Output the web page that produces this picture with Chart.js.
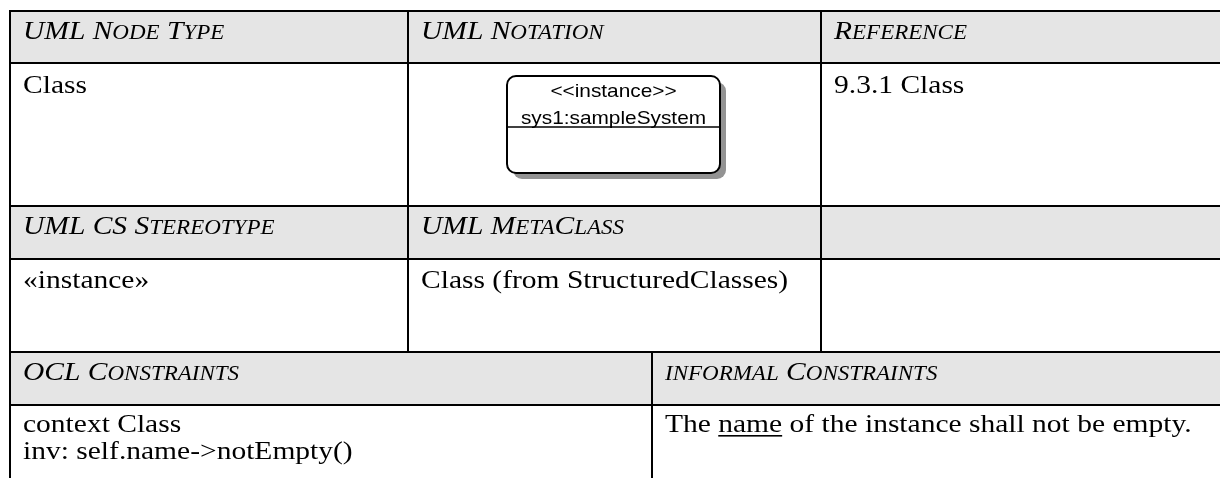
<!DOCTYPE html>
<html><head><meta charset="utf-8">
<script src="https://cdn.jsdelivr.net/npm/chart.js@4.4.0/dist/chart.umd.min.js"></script>
<style>html,body{margin:0;padding:0;background:#fff;overflow:hidden}#wrap{width:1220px;height:478px}</style>
</head><body><div id="wrap"><canvas id="c" width="1220" height="478"></canvas></div>
<script>
// ---- table content (data) ----
const columnEdgesUpper = [10, 408, 821, 1228];
const columnEdgesLower = [10, 652, 1228];
const rowEdges = [11, 63, 206, 259, 352, 405, 490];
const headerRows = [0, 2, 4];
const row1Headers = ['UML Node Type', 'UML Notation', 'Reference'];
const row2Values = ['Class', '', '9.3.1 Class'];
const row3Headers = ['UML CS Stereotype', 'UML MetaClass', ''];
const row4Values = ['\u00ABinstance\u00BB', 'Class (from StructuredClasses)', ''];
const row5Headers = ['OCL Constraints', 'informal Constraints'];
const row6OclLines = ['context Class', 'inv: self.name->notEmpty()'];
const row6Informal = [['The ', false], ['name', true], [' of the instance shall not be empty.', false]];
const notationLines = ['<<instance>>', 'sys1:sampleSystem'];
const notationBox = { x0: 507, x1: 720, y0: 76, y1: 173, divider: 127 };

// ---- styles ----
const SX = 1.135;          // horizontal stretch of the source rendering
const SX_BOX = 1.12;
const SERIF = '"Liberation Serif", "Times New Roman", serif';
const SANS = '"Liberation Sans", Arial, sans-serif';
const FS = 26, SC = 0.78, FS_BOX = 18.6;
const PAD_X = 13, BASE_OFF = 28, LINE_H = 27;
const GREY = '#e5e5e5';

function drawRuns(ctx, x, y, runs, sx) {
  sx = sx || SX;
  let cx = x;
  for (const r of runs) {
    ctx.font = (r.italic ? 'italic ' : '') + r.size + 'px ' + (r.family || SERIF);
    const w = ctx.measureText(r.t).width * sx;
    ctx.save(); ctx.translate(cx, y); ctx.scale(sx, 1); ctx.fillText(r.t, 0, 0); ctx.restore();
    if (r.underline) ctx.fillRect(cx, y + 3, w, 1.6);
    cx += w;
  }
  return cx - x;
}
function smallCaps(str) {
  const runs = [];
  for (const ch of str) {
    const small = /[a-z]/.test(ch);
    const t = small ? ch.toUpperCase() : ch;
    const size = small ? FS * SC : FS;
    const last = runs[runs.length - 1];
    if (last && last.size === size) last.t += t; else runs.push({ t, size, italic: true });
  }
  return runs;
}
function plain(str) { return [{ t: str, size: FS, italic: false }]; }

const tablePlugin = {
  id: 'tablePlugin',
  afterDraw(chart) {
    const ctx = chart.ctx;
    const X = v => chart.scales.x.getPixelForValue(v);
    const Y = v => chart.scales.y.getPixelForValue(v);
    ctx.save();
    for (const r of headerRows) {
      ctx.fillStyle = GREY;
      ctx.fillRect(X(columnEdgesUpper[0]), Y(rowEdges[r]), X(1228) - X(columnEdgesUpper[0]), Y(rowEdges[r + 1]) - Y(rowEdges[r]));
    }
    ctx.strokeStyle = '#000'; ctx.lineWidth = 2;
    ctx.beginPath();
    for (let i = 0; i < rowEdges.length - 1; i++) {
      ctx.moveTo(X(columnEdgesUpper[0]) - 1, Y(rowEdges[i])); ctx.lineTo(X(1228), Y(rowEdges[i]));
    }
    ctx.moveTo(X(columnEdgesUpper[0]), Y(rowEdges[0])); ctx.lineTo(X(columnEdgesUpper[0]), Y(rowEdges[6]));
    for (let c = 1; c < columnEdgesUpper.length - 1; c++) {
      ctx.moveTo(X(columnEdgesUpper[c]), Y(rowEdges[0])); ctx.lineTo(X(columnEdgesUpper[c]), Y(rowEdges[4]));
    }
    for (let c = 1; c < columnEdgesLower.length - 1; c++) {
      ctx.moveTo(X(columnEdgesLower[c]), Y(rowEdges[4])); ctx.lineTo(X(columnEdgesLower[c]), Y(rowEdges[6]));
    }
    ctx.stroke();

    ctx.fillStyle = '#000'; ctx.textBaseline = 'alphabetic'; ctx.textAlign = 'left';
    const cx = c => X(columnEdgesUpper[c]) + PAD_X;
    const cxl = c => X(columnEdgesLower[c]) + PAD_X;
    const by = r => Y(rowEdges[r]) + BASE_OFF;
    row1Headers.forEach((t, c) => t && drawRuns(ctx, cx(c), by(0), smallCaps(t)));
    row2Values.forEach((t, c) => t && drawRuns(ctx, cx(c), by(1) + 2, plain(t)));
    row3Headers.forEach((t, c) => t && drawRuns(ctx, cx(c), by(2), smallCaps(t)));
    row4Values.forEach((t, c) => t && drawRuns(ctx, cx(c), by(3) + 1, plain(t)));
    row5Headers.forEach((t, c) => t && drawRuns(ctx, cxl(c), by(4), smallCaps(t)));
    row6OclLines.forEach((t, i) => drawRuns(ctx, cxl(0), by(5) - 1 + i * LINE_H, plain(t)));
    drawRuns(ctx, cxl(1), by(5) - 1, row6Informal.map(([t, u]) => ({ t, size: FS, italic: false, underline: u })));

    const b = notationBox;
    const bx0 = X(b.x0), bx1 = X(b.x1), by0 = Y(b.y0), by1 = Y(b.y1);
    ctx.fillStyle = '#939393';
    ctx.beginPath(); ctx.roundRect(bx0 + 6, by0 + 6, bx1 - bx0, by1 - by0, 9); ctx.fill();
    ctx.fillStyle = '#fff';
    ctx.beginPath(); ctx.roundRect(bx0, by0, bx1 - bx0, by1 - by0, 9); ctx.fill();
    ctx.lineWidth = 2; ctx.strokeStyle = '#000'; ctx.stroke();
    ctx.beginPath(); ctx.moveTo(bx0, Y(b.divider)); ctx.lineTo(bx1, Y(b.divider)); ctx.lineWidth = 1.5; ctx.stroke();
    ctx.fillStyle = '#000';
    const mid = (bx0 + bx1) / 2;
    notationLines.forEach((t, i) => {
      ctx.font = FS_BOX + 'px ' + SANS;
      const w = ctx.measureText(t).width * SX_BOX;
      drawRuns(ctx, mid - w / 2, by0 + 21 + i * 27, [{ t, size: FS_BOX, italic: false, family: SANS }], SX_BOX);
    });
    ctx.restore();
  }
};

new Chart(document.getElementById('c'), {
  type: 'scatter',
  data: { datasets: [{ data: [] }] },
  options: {
    responsive: false, animation: false, events: [],
    layout: { padding: 0 },
    plugins: { legend: { display: false }, tooltip: { enabled: false } },
    scales: {
      x: { type: 'linear', min: 0, max: 1220, display: false },
      y: { type: 'linear', min: 0, max: 478, reverse: true, display: false }
    }
  },
  plugins: [tablePlugin]
});
</script></body></html>
